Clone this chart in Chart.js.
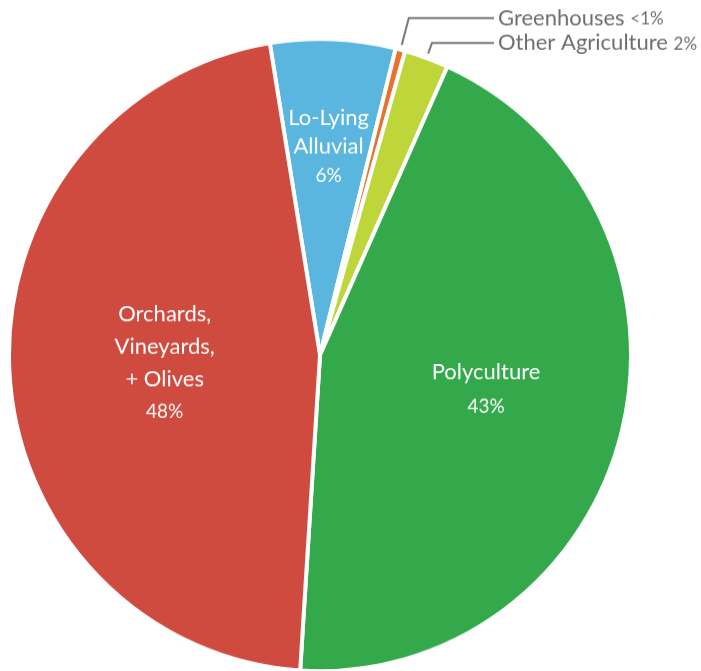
<!DOCTYPE html>
<html>
<head>
<meta charset="utf-8">
<script src="https://cdn.jsdelivr.net/npm/chart.js@4.4.1/dist/chart.umd.min.js"></script>
<style>
    html, body { margin: 0; padding: 0; background: #fff; }
    #wrap { width: 701px; height: 671px; }
</style>
</head>
<body>
<div id="wrap"><canvas id="pieChart" width="701" height="660" style="width:701px;height:671px"></canvas></div>
<script>
// land use shares, clockwise from the top
const categories = ["Lo-Lying Alluvial", "Greenhouses", "Other Agriculture", "Polyculture", "Orchards, Vineyards, + Olives"];
const shares = [6.5, 0.5, 2.3, 44.3, 46.4];
const pctLabels = ["6%", "<1%", "2%", "43%", "48%"];
const nameLines = [["Lo-Lying", "Alluvial"], ["Greenhouses"], ["Other Agriculture"], ["Polyculture"], ["Orchards,", "Vineyards,", "+ Olives"]];
const sliceColors = ["#5AB6DF", "#E9712B", "#BED63A", "#33A94B", "#CF4A3F"];

const FONT = "Lato, 'Open Sans', sans-serif";

// where each label goes: inside (fraction of radius) or outside with a leader
const labelSpots = [
    { inside: true, r: 0.66, gap: 28.5, dy: 0 },
    { inside: false, y: 17.7 },
    { inside: false, y: 42.3 },
    { inside: true, r: 0.55, gap: 34, dy: -7 },
    { inside: true, r: 0.50, gap: 32, dy: 0 }
];

const sliceLabels = {
    id: "sliceLabels",
    afterDatasetsDraw(chart) {
        const ctx = chart.ctx;
        const arcs = chart.getDatasetMeta(0).data;
        ctx.save();
        arcs.forEach((arc, i) => {
            const p = arc.getProps(["x", "y", "startAngle", "endAngle", "outerRadius"], true);
            const mid = (p.startAngle + p.endAngle) / 2;
            const spot = labelSpots[i];

            if (spot.inside) {
                const cx = p.x + Math.cos(mid) * p.outerRadius * spot.r;
                const cy = p.y + Math.sin(mid) * p.outerRadius * spot.r + spot.dy;
                const lines = nameLines[i].concat([pctLabels[i]]);
                const top = cy - (lines.length - 1) * spot.gap / 2;
                ctx.fillStyle = "#ffffff";
                ctx.textAlign = "center";
                ctx.textBaseline = "middle";
                lines.forEach((txt, k) => {
                    const isPct = k === lines.length - 1;
                    ctx.font = (isPct ? "19px " : "22px ") + FONT;
                    ctx.fillText(txt, cx, top + k * spot.gap);
                });
            } else {
                // leader line: radial out of the slice, then across to the text
                const r0 = p.outerRadius * 1.015;
                const sx = p.x + Math.cos(mid) * r0;
                const sy = p.y + Math.sin(mid) * r0;
                const ex = sx + (spot.y - sy) * Math.cos(mid) / Math.sin(mid);
                ctx.strokeStyle = "#77787b";
                ctx.lineWidth = 2;
                ctx.beginPath();
                ctx.moveTo(sx, sy);
                ctx.lineTo(ex, spot.y);
                ctx.lineTo(494, spot.y);
                ctx.stroke();

                ctx.fillStyle = "#6d6e71";
                ctx.textAlign = "left";
                ctx.textBaseline = "middle";
                ctx.font = "22px " + FONT;
                const name = nameLines[i][0] + " ";
                ctx.fillText(name, 498, spot.y);
                const w = ctx.measureText(name).width;
                ctx.font = "17px " + FONT;
                ctx.fillText(pctLabels[i], 498 + w, spot.y + 1);
            }
        });
        ctx.restore();
    }
};

new Chart(document.getElementById("pieChart"), {
    type: "pie",
    data: {
        labels: categories,
        datasets: [{
            data: shares,
            backgroundColor: sliceColors,
            borderColor: "#ffffff",
            borderWidth: 4,
            radius: 311
        }]
    },
    options: {
        responsive: false,
        animation: false,
        rotation: -9.3,
        layout: { padding: { left: 0, right: 61, top: 38.4, bottom: 0 } },
        plugins: {
            legend: { display: false },
            tooltip: { enabled: false }
        }
    },
    plugins: [sliceLabels]
});
</script>
</body>
</html>
